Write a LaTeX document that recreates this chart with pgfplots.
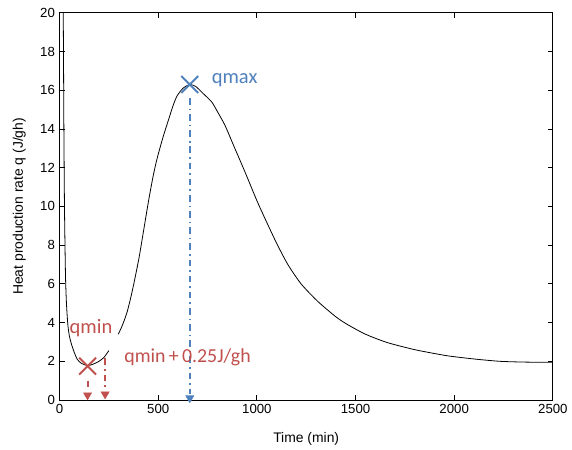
\documentclass[border=0pt]{standalone}
\usepackage{fontspec}
\setmainfont{Liberation Sans}
\newfontfamily\calib{Carlito}
\usepackage{pgfplots}
\pgfplotsset{compat=1.18}
\definecolor{qblue}{RGB}{79,129,189}
\definecolor{qred}{RGB}{192,80,77}

\begin{document}
\begin{tikzpicture}
\begin{axis}[
  scale only axis,
  width=372.75pt, height=292.5pt,
  xmin=0, xmax=2500, ymin=0, ymax=20,
  xtick={0,500,...,2500}, ytick={0,2,...,20},
  tick align=inside,
  major tick length=4pt,
  tick style={black, line width=0.6pt},
  axis line style={line width=0.6pt},
  ticklabel style={font=\fontsize{10}{12}\selectfont},
  /pgf/number format/assume math mode=true,
  /pgf/number format/1000 sep={},
  scaled ticks=false,
  xlabel={Time (min)},
  ylabel={Heat production rate q (J/gh)},
  label style={font=\fontsize{10.5}{12}\selectfont},
  xlabel style={yshift=-7pt},
  ylabel style={yshift=4pt},
  clip=false,
]
% invisible frame to fix the picture size
\path (rel axis cs:-0.1207,-0.1231) rectangle (rel axis cs:1.0302,1.0333);

\begin{scope}
\clip (rel axis cs:0,0) rectangle (rel axis cs:1,1);
\addplot[black, line width=0.6pt, smooth, tension=0.4] coordinates {
  (18,21) (20,18) (22,14) (25,10) (30,6.5) (35,5) (42,3.9) (50,3.3)
  (60,2.9) (75,2.45) (90,2.1) (110,1.9) (142,1.78) (170,1.85)
  (200,2.0) (225,2.2) (250,2.55)
};
\end{scope}
\addplot[black, line width=0.6pt, smooth, tension=0.4] coordinates {
  (298,3.4) (320,3.9) (344,4.6) (370,5.7) (402,7.3) (430,9.0)
  (453,10.4) (475,11.6) (495,12.5) (525,13.6) (553,14.5) (575,15.2)
  (595,15.7) (625,16.1) (660,16.3) (690,16.2) (721,15.9) (771,15.4)
  (800,14.9) (838,14.2) (880,13.2) (939,11.8) (1000,10.3) (1040,9.4)
  (1100,8.1) (1157,7.0) (1224,6.0) (1308,5.1) (1400,4.3) (1459,3.9)
  (1550,3.4) (1660,2.97) (1800,2.6) (1962,2.29) (2100,2.12)
  (2230,2.0) (2350,1.96) (2465,1.95) (2500,1.96)
};

% qmax marker and drop line
\addplot[qblue, line width=1.5pt, dash pattern=on 5pt off 3pt on 1.2pt off 3pt]
  coordinates {(660,15.6) (660,0.3)};
\addplot[qblue, only marks, mark=x, mark size=9pt, mark options={line width=1.5pt}]
  coordinates {(660,16.3)};
\addplot[qblue, only marks, mark=triangle*, mark size=3.5pt, mark options={rotate=180}]
  coordinates {(660,0.1)};

% qmin marker and drop lines
\addplot[qred, line width=1.5pt, dash pattern=on 5pt off 3pt on 1.2pt off 3pt]
  coordinates {(142,1.0) (142,0.5)};
\addplot[qred, line width=1.5pt, dash pattern=on 5pt off 3pt on 1.2pt off 3pt]
  coordinates {(231,2.15) (231,0.6)};
\addplot[qred, only marks, mark=x, mark size=9pt, mark options={line width=1.5pt}]
  coordinates {(142,1.75)};
\addplot[qred, only marks, mark=triangle*, mark size=3.5pt, mark options={rotate=180}]
  coordinates {(142,0.25) (231,0.3)};

\node[anchor=west, text=qblue, font=\calib\fontsize{15.5}{18}\selectfont, inner sep=0pt]
  at (axis cs:770,16.5) {qmax};
\node[anchor=west, text=qred, font=\calib\fontsize{15.5}{18}\selectfont, inner sep=0pt]
  at (axis cs:50,3.74) {qmin};
\node[anchor=west, text=qred, font=\calib\fontsize{15}{18}\selectfont, inner sep=0pt]
  at (axis cs:327,2.2) {qmin\,+\,0.25J/gh};
\end{axis}
\end{tikzpicture}
\end{document}
